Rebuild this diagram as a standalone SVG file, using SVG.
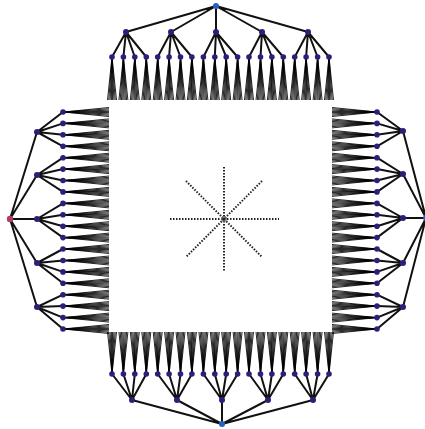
<svg xmlns="http://www.w3.org/2000/svg" xmlns:xlink="http://www.w3.org/1999/xlink" width="425" height="429" viewBox="0 0 425 429">
<style>
.e{fill:none;stroke:#111;stroke-width:2}
.f{fill:none;stroke:#000;stroke-width:0.85}
.n{fill:#2b1f7a}
.rb{fill:#2a5fc0}
.rr{fill:#b04060}
.dot{fill:none;stroke:#222;stroke-width:2;stroke-dasharray:1.5 1.5}
</style>
<defs>
<path id="fanD" class="f" d="M0 0L-4.5 43M0 0L-3.2 43M0 0L-1.9 43M0 0L-0.6 43M0 0L0.6 43M0 0L1.9 43M0 0L3.2 43M0 0L4.5 43"/>
<path id="fanU" class="f" d="M0 0L-4.5 -42M0 0L-3.2 -42M0 0L-1.9 -42M0 0L-0.6 -42M0 0L0.6 -42M0 0L1.9 -42M0 0L3.2 -42M0 0L4.5 -42"/>
<path id="fanR" class="f" d="M0 0L46 -4.5M0 0L46 -3.2M0 0L46 -1.9M0 0L46 -0.6M0 0L46 0.6M0 0L46 1.9M0 0L46 3.2M0 0L46 4.5"/>
<path id="fanL" class="f" d="M0 0L-45 -4.5M0 0L-45 -3.2M0 0L-45 -1.9M0 0L-45 -0.6M0 0L-45 0.6M0 0L-45 1.9M0 0L-45 3.2M0 0L-45 4.5"/>
</defs>
<rect width="425" height="429" fill="#fff"/>
<g id="connectors">
<path class="e" d="M216 6L126 32M216 6L171 32M216 6L216 32M216 6L262 32M216 6L308 32M126 32L112 57M126 32L123.4 57M126 32L134.8 57M126 32L146.3 57M171 32L157.7 57M171 32L169.1 57M171 32L180.5 57M171 32L191.9 57M216 32L203.4 57M216 32L214.8 57M216 32L226.2 57M216 32L237.6 57M262 32L249 57M262 32L260.5 57M262 32L271.9 57M262 32L283.3 57M308 32L294.7 57M308 32L306.1 57M308 32L317.6 57M308 32L329 57"/>
<path class="e" d="M222 424L132 400M222 424L177 400M222 424L222 400M222 424L268 400M222 424L313 400M132 400L112 374M132 400L123.4 374M132 400L134.8 374M132 400L146.3 374M177 400L157.7 374M177 400L169.1 374M177 400L180.5 374M177 400L191.9 374M222 400L203.4 374M222 400L214.8 374M222 400L226.2 374M222 400L237.6 374M268 400L249 374M268 400L260.5 374M268 400L271.9 374M268 400L283.3 374M313 400L294.7 374M313 400L306.1 374M313 400L317.6 374M313 400L329 374"/>
<path class="e" d="M10 219L37 132M10 219L37 175M10 219L37 219M10 219L37 263M10 219L37 307M37 132L63 112M37 132L63 123.4M37 132L63 134.8M37 132L63 146.3M37 175L63 157.7M37 175L63 169.1M37 175L63 180.5M37 175L63 191.9M37 219L63 203.4M37 219L63 214.8M37 219L63 226.2M37 219L63 237.6M37 263L63 249M37 263L63 260.5M37 263L63 271.9M37 263L63 283.3M37 307L63 294.7M37 307L63 306.1M37 307L63 317.6M37 307L63 329"/>
<path class="e" d="M426 218L403 131M426 218L403 174M426 218L403 218M426 218L403 263M426 218L403 307M403 131L377 112M403 131L377 123.4M403 131L377 134.8M403 131L377 146.3M403 174L377 157.7M403 174L377 169.1M403 174L377 180.5M403 174L377 191.9M403 218L377 203.4M403 218L377 214.8M403 218L377 226.2M403 218L377 237.6M403 263L377 249M403 263L377 260.5M403 263L377 271.9M403 263L377 283.3M403 307L377 294.7M403 307L377 306.1M403 307L377 317.6M403 307L377 329"/>
<g id="fans-top">
<use href="#fanD" x="112" y="57"/><use href="#fanD" x="123.4" y="57"/><use href="#fanD" x="134.8" y="57"/><use href="#fanD" x="146.3" y="57"/><use href="#fanD" x="157.7" y="57"/><use href="#fanD" x="169.1" y="57"/><use href="#fanD" x="180.5" y="57"/><use href="#fanD" x="191.9" y="57"/><use href="#fanD" x="203.4" y="57"/><use href="#fanD" x="214.8" y="57"/><use href="#fanD" x="226.2" y="57"/><use href="#fanD" x="237.6" y="57"/><use href="#fanD" x="249" y="57"/><use href="#fanD" x="260.5" y="57"/><use href="#fanD" x="271.9" y="57"/><use href="#fanD" x="283.3" y="57"/><use href="#fanD" x="294.7" y="57"/><use href="#fanD" x="306.1" y="57"/><use href="#fanD" x="317.6" y="57"/><use href="#fanD" x="329" y="57"/>
</g>
<g id="fans-bottom">
<use href="#fanU" x="112" y="374"/><use href="#fanU" x="123.4" y="374"/><use href="#fanU" x="134.8" y="374"/><use href="#fanU" x="146.3" y="374"/><use href="#fanU" x="157.7" y="374"/><use href="#fanU" x="169.1" y="374"/><use href="#fanU" x="180.5" y="374"/><use href="#fanU" x="191.9" y="374"/><use href="#fanU" x="203.4" y="374"/><use href="#fanU" x="214.8" y="374"/><use href="#fanU" x="226.2" y="374"/><use href="#fanU" x="237.6" y="374"/><use href="#fanU" x="249" y="374"/><use href="#fanU" x="260.5" y="374"/><use href="#fanU" x="271.9" y="374"/><use href="#fanU" x="283.3" y="374"/><use href="#fanU" x="294.7" y="374"/><use href="#fanU" x="306.1" y="374"/><use href="#fanU" x="317.6" y="374"/><use href="#fanU" x="329" y="374"/>
</g>
<g id="fans-left">
<use href="#fanR" x="63" y="112"/><use href="#fanR" x="63" y="123.4"/><use href="#fanR" x="63" y="134.8"/><use href="#fanR" x="63" y="146.3"/><use href="#fanR" x="63" y="157.7"/><use href="#fanR" x="63" y="169.1"/><use href="#fanR" x="63" y="180.5"/><use href="#fanR" x="63" y="191.9"/><use href="#fanR" x="63" y="203.4"/><use href="#fanR" x="63" y="214.8"/><use href="#fanR" x="63" y="226.2"/><use href="#fanR" x="63" y="237.6"/><use href="#fanR" x="63" y="249"/><use href="#fanR" x="63" y="260.5"/><use href="#fanR" x="63" y="271.9"/><use href="#fanR" x="63" y="283.3"/><use href="#fanR" x="63" y="294.7"/><use href="#fanR" x="63" y="306.1"/><use href="#fanR" x="63" y="317.6"/><use href="#fanR" x="63" y="329"/>
</g>
<g id="fans-right">
<use href="#fanL" x="377" y="112"/><use href="#fanL" x="377" y="123.4"/><use href="#fanL" x="377" y="134.8"/><use href="#fanL" x="377" y="146.3"/><use href="#fanL" x="377" y="157.7"/><use href="#fanL" x="377" y="169.1"/><use href="#fanL" x="377" y="180.5"/><use href="#fanL" x="377" y="191.9"/><use href="#fanL" x="377" y="203.4"/><use href="#fanL" x="377" y="214.8"/><use href="#fanL" x="377" y="226.2"/><use href="#fanL" x="377" y="237.6"/><use href="#fanL" x="377" y="249"/><use href="#fanL" x="377" y="260.5"/><use href="#fanL" x="377" y="271.9"/><use href="#fanL" x="377" y="283.3"/><use href="#fanL" x="377" y="294.7"/><use href="#fanL" x="377" y="306.1"/><use href="#fanL" x="377" y="317.6"/><use href="#fanL" x="377" y="329"/>
</g>
</g>
<g id="center-star">
<path class="dot" d="M224 167V271M170 219H279M186 181L262 257M262 181L186 257"/>
<circle cx="224" cy="219" r="2.5" fill="none" stroke="#666" stroke-width="1"/>
</g>
<g id="nodes">
<g id="top-root"><circle class="rb" cx="216" cy="6" r="3"/></g>
<g id="top-c1"><circle class="n" cx="126" cy="32" r="3"/></g>
<g id="top-c2"><circle class="n" cx="171" cy="32" r="3"/></g>
<g id="top-c3"><circle class="n" cx="216" cy="32" r="3"/></g>
<g id="top-c4"><circle class="n" cx="262" cy="32" r="3"/></g>
<g id="top-c5"><circle class="n" cx="308" cy="32" r="3"/></g>
<g id="top-g1"><circle class="n" cx="112" cy="57" r="2.8"/></g>
<g id="top-g2"><circle class="n" cx="123.4" cy="57" r="2.8"/></g>
<g id="top-g3"><circle class="n" cx="134.8" cy="57" r="2.8"/></g>
<g id="top-g4"><circle class="n" cx="146.3" cy="57" r="2.8"/></g>
<g id="top-g5"><circle class="n" cx="157.7" cy="57" r="2.8"/></g>
<g id="top-g6"><circle class="n" cx="169.1" cy="57" r="2.8"/></g>
<g id="top-g7"><circle class="n" cx="180.5" cy="57" r="2.8"/></g>
<g id="top-g8"><circle class="n" cx="191.9" cy="57" r="2.8"/></g>
<g id="top-g9"><circle class="n" cx="203.4" cy="57" r="2.8"/></g>
<g id="top-g10"><circle class="n" cx="214.8" cy="57" r="2.8"/></g>
<g id="top-g11"><circle class="n" cx="226.2" cy="57" r="2.8"/></g>
<g id="top-g12"><circle class="n" cx="237.6" cy="57" r="2.8"/></g>
<g id="top-g13"><circle class="n" cx="249" cy="57" r="2.8"/></g>
<g id="top-g14"><circle class="n" cx="260.5" cy="57" r="2.8"/></g>
<g id="top-g15"><circle class="n" cx="271.9" cy="57" r="2.8"/></g>
<g id="top-g16"><circle class="n" cx="283.3" cy="57" r="2.8"/></g>
<g id="top-g17"><circle class="n" cx="294.7" cy="57" r="2.8"/></g>
<g id="top-g18"><circle class="n" cx="306.1" cy="57" r="2.8"/></g>
<g id="top-g19"><circle class="n" cx="317.6" cy="57" r="2.8"/></g>
<g id="top-g20"><circle class="n" cx="329" cy="57" r="2.8"/></g>
<g id="bot-root"><circle class="rb" cx="222" cy="424" r="3"/></g>
<g id="bot-c1"><circle class="n" cx="132" cy="400" r="3"/></g>
<g id="bot-c2"><circle class="n" cx="177" cy="400" r="3"/></g>
<g id="bot-c3"><circle class="n" cx="222" cy="400" r="3"/></g>
<g id="bot-c4"><circle class="n" cx="268" cy="400" r="3"/></g>
<g id="bot-c5"><circle class="n" cx="313" cy="400" r="3"/></g>
<g id="bot-g1"><circle class="n" cx="112" cy="374" r="2.8"/></g>
<g id="bot-g2"><circle class="n" cx="123.4" cy="374" r="2.8"/></g>
<g id="bot-g3"><circle class="n" cx="134.8" cy="374" r="2.8"/></g>
<g id="bot-g4"><circle class="n" cx="146.3" cy="374" r="2.8"/></g>
<g id="bot-g5"><circle class="n" cx="157.7" cy="374" r="2.8"/></g>
<g id="bot-g6"><circle class="n" cx="169.1" cy="374" r="2.8"/></g>
<g id="bot-g7"><circle class="n" cx="180.5" cy="374" r="2.8"/></g>
<g id="bot-g8"><circle class="n" cx="191.9" cy="374" r="2.8"/></g>
<g id="bot-g9"><circle class="n" cx="203.4" cy="374" r="2.8"/></g>
<g id="bot-g10"><circle class="n" cx="214.8" cy="374" r="2.8"/></g>
<g id="bot-g11"><circle class="n" cx="226.2" cy="374" r="2.8"/></g>
<g id="bot-g12"><circle class="n" cx="237.6" cy="374" r="2.8"/></g>
<g id="bot-g13"><circle class="n" cx="249" cy="374" r="2.8"/></g>
<g id="bot-g14"><circle class="n" cx="260.5" cy="374" r="2.8"/></g>
<g id="bot-g15"><circle class="n" cx="271.9" cy="374" r="2.8"/></g>
<g id="bot-g16"><circle class="n" cx="283.3" cy="374" r="2.8"/></g>
<g id="bot-g17"><circle class="n" cx="294.7" cy="374" r="2.8"/></g>
<g id="bot-g18"><circle class="n" cx="306.1" cy="374" r="2.8"/></g>
<g id="bot-g19"><circle class="n" cx="317.6" cy="374" r="2.8"/></g>
<g id="bot-g20"><circle class="n" cx="329" cy="374" r="2.8"/></g>
<g id="left-root"><circle class="rr" cx="10" cy="219" r="3.2"/></g>
<g id="left-c1"><circle class="n" cx="37" cy="132" r="3"/></g>
<g id="left-c2"><circle class="n" cx="37" cy="175" r="3"/></g>
<g id="left-c3"><circle class="n" cx="37" cy="219" r="3"/></g>
<g id="left-c4"><circle class="n" cx="37" cy="263" r="3"/></g>
<g id="left-c5"><circle class="n" cx="37" cy="307" r="3"/></g>
<g id="left-g1"><circle class="n" cx="63" cy="112" r="2.8"/></g>
<g id="left-g2"><circle class="n" cx="63" cy="123.4" r="2.8"/></g>
<g id="left-g3"><circle class="n" cx="63" cy="134.8" r="2.8"/></g>
<g id="left-g4"><circle class="n" cx="63" cy="146.3" r="2.8"/></g>
<g id="left-g5"><circle class="n" cx="63" cy="157.7" r="2.8"/></g>
<g id="left-g6"><circle class="n" cx="63" cy="169.1" r="2.8"/></g>
<g id="left-g7"><circle class="n" cx="63" cy="180.5" r="2.8"/></g>
<g id="left-g8"><circle class="n" cx="63" cy="191.9" r="2.8"/></g>
<g id="left-g9"><circle class="n" cx="63" cy="203.4" r="2.8"/></g>
<g id="left-g10"><circle class="n" cx="63" cy="214.8" r="2.8"/></g>
<g id="left-g11"><circle class="n" cx="63" cy="226.2" r="2.8"/></g>
<g id="left-g12"><circle class="n" cx="63" cy="237.6" r="2.8"/></g>
<g id="left-g13"><circle class="n" cx="63" cy="249" r="2.8"/></g>
<g id="left-g14"><circle class="n" cx="63" cy="260.5" r="2.8"/></g>
<g id="left-g15"><circle class="n" cx="63" cy="271.9" r="2.8"/></g>
<g id="left-g16"><circle class="n" cx="63" cy="283.3" r="2.8"/></g>
<g id="left-g17"><circle class="n" cx="63" cy="294.7" r="2.8"/></g>
<g id="left-g18"><circle class="n" cx="63" cy="306.1" r="2.8"/></g>
<g id="left-g19"><circle class="n" cx="63" cy="317.6" r="2.8"/></g>
<g id="left-g20"><circle class="n" cx="63" cy="329" r="2.8"/></g>
<g id="right-root"><circle class="rb" cx="426" cy="218" r="3"/></g>
<g id="right-c1"><circle class="n" cx="403" cy="131" r="3"/></g>
<g id="right-c2"><circle class="n" cx="403" cy="174" r="3"/></g>
<g id="right-c3"><circle class="n" cx="403" cy="218" r="3"/></g>
<g id="right-c4"><circle class="n" cx="403" cy="263" r="3"/></g>
<g id="right-c5"><circle class="n" cx="403" cy="307" r="3"/></g>
<g id="right-g1"><circle class="n" cx="377" cy="112" r="2.8"/></g>
<g id="right-g2"><circle class="n" cx="377" cy="123.4" r="2.8"/></g>
<g id="right-g3"><circle class="n" cx="377" cy="134.8" r="2.8"/></g>
<g id="right-g4"><circle class="n" cx="377" cy="146.3" r="2.8"/></g>
<g id="right-g5"><circle class="n" cx="377" cy="157.7" r="2.8"/></g>
<g id="right-g6"><circle class="n" cx="377" cy="169.1" r="2.8"/></g>
<g id="right-g7"><circle class="n" cx="377" cy="180.5" r="2.8"/></g>
<g id="right-g8"><circle class="n" cx="377" cy="191.9" r="2.8"/></g>
<g id="right-g9"><circle class="n" cx="377" cy="203.4" r="2.8"/></g>
<g id="right-g10"><circle class="n" cx="377" cy="214.8" r="2.8"/></g>
<g id="right-g11"><circle class="n" cx="377" cy="226.2" r="2.8"/></g>
<g id="right-g12"><circle class="n" cx="377" cy="237.6" r="2.8"/></g>
<g id="right-g13"><circle class="n" cx="377" cy="249" r="2.8"/></g>
<g id="right-g14"><circle class="n" cx="377" cy="260.5" r="2.8"/></g>
<g id="right-g15"><circle class="n" cx="377" cy="271.9" r="2.8"/></g>
<g id="right-g16"><circle class="n" cx="377" cy="283.3" r="2.8"/></g>
<g id="right-g17"><circle class="n" cx="377" cy="294.7" r="2.8"/></g>
<g id="right-g18"><circle class="n" cx="377" cy="306.1" r="2.8"/></g>
<g id="right-g19"><circle class="n" cx="377" cy="317.6" r="2.8"/></g>
<g id="right-g20"><circle class="n" cx="377" cy="329" r="2.8"/></g>
</g>
</svg>
